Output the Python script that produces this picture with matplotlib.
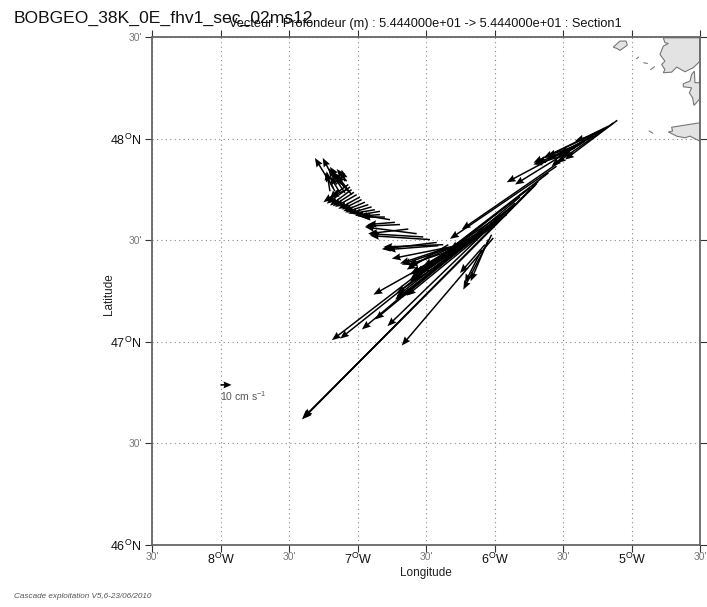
import matplotlib
matplotlib.use("Agg")
import matplotlib.pyplot as plt
from matplotlib.patches import Polygon

plt.rcParams['font.family'] = ['Liberation Sans', 'DejaVu Sans']
plt.rcParams['mathtext.fontset'] = 'custom'
plt.rcParams['mathtext.rm'] = 'Liberation Sans'
plt.rcParams['mathtext.it'] = 'Liberation Sans:italic'
plt.rcParams['mathtext.default'] = 'regular'

W, H = 707, 607
AX_L, AX_R, AX_T, AX_B = 152, 700, 37, 545

lon = [-5.104,-5.133,-5.169,-5.206,-5.255,-5.303,-5.340,-5.376,-5.413,-5.449,
       -5.498,-5.547,-5.607,-5.680,-5.693,-5.705,-5.741,-5.778,-5.814,-5.851,
       -5.887,-5.924,-5.960,-5.997,-6.009,-6.021,-6.045,-6.070,-6.094,-6.106,
       -6.143,-6.191,-6.240,-6.289,-6.337,-6.374,-6.422,-6.471,-6.520,-6.568,
       -6.629,-6.690,-6.763,-6.836,-6.873,-6.921,-6.970,-7.006,-7.043,-7.067,
       -7.079,-7.092,-7.116,-7.152,-7.177,-7.201,-7.140,-7.092,
       -6.727,-6.800,-6.836,-6.897,-6.946,-6.982,-7.026,-7.055,-7.079,-7.043,
       -7.067,-7.092,-7.128,-7.165,
       -6.130,-6.167,-6.203,-6.228,-6.264,-6.252,-6.057,-6.082,-5.911,-5.863,
       -5.960,-6.009,-6.301,-6.350,-6.410,
       -5.230,-5.279,-5.364,-5.425]
lat = [48.090,48.077,48.061,48.044,48.025,48.003,47.987,47.971,47.954,47.938,
       47.897,47.864,47.831,47.790,47.778,47.769,47.757,47.741,47.713,47.683,
       47.659,47.634,47.601,47.568,47.511,47.527,47.503,47.478,47.453,47.568,
       47.527,47.494,47.478,47.470,47.478,47.478,47.489,47.503,47.516,47.532,
       47.555,47.577,47.601,47.626,47.650,47.675,47.700,47.724,47.749,47.774,
       47.790,47.790,47.774,47.774,47.757,47.741,47.749,47.757,
       47.588,47.614,47.642,47.664,47.687,47.713,47.736,47.762,47.749,47.724,
       47.741,47.733,47.733,47.741,
       47.511,47.511,47.494,47.470,47.462,47.453,47.552,47.544,47.626,47.667,
       47.609,47.577,47.453,47.462,47.473,
       48.036,48.012,47.979,47.930]
u = [-47.6,-51.5,-68.2,-54.5,-19.7,-75.8,-63.6,-30.3,-34.8,-16.7,
     -92.4,-97.0,-125.7,-215.1,-212.7,-210.6,-180.3,-168.2,-143.9,-116.0,
     -122.7,-98.5,-84.8,-110.6,-83.3,-25.8,-16.1,-22.7,-15.2,-60.6,
     -57.6,-60.6,-63.6,-42.4,-37.9,-54.5,-50.0,-54.5,-50.0,-47.0,
     -36.4,-31.8,-27.3,-19.7,-21.2,-21.2,-18.2,-19.7,-19.7,-22.7,
     -9.1,-3.0,-10.6,-12.7,-16.7,-3.0,-7.6,-9.1,
     -25.1,-21.2,-22.7,-21.2,-19.7,-19.7,-19.4,-21.2,-15.2,-13.6,
     -15.2,-15.2,-9.1,-9.1,
     -57.6,-54.5,-51.5,-43.9,-43.9,-57.6,-83.3,-72.7,-84.8,-57.6,
     -72.7,-63.6,-40.9,-42.4,-47.0,
     -36.4,-42.4,-22.7,-36.4]
v = [-35.8,-36.4,-33.3,-25.8,-7.0,-40.3,-39.4,-10.6,-13.6,-13.6,
     -63.6,-66.1,-97.0,-216.6,-213.9,-211.2,-138.5,-134.2,-120.6,-112.1,
     -101.5,-75.8,-69.1,-62.1,-97.9,-50.0,-37.9,-25.8,-30.3,-48.5,
     -34.8,-21.2,-12.7,-18.2,-22.7,-2.1,-6.1,3.6,3.0,6.1,
     -4.2,-1.5,4.5,-1.5,-3.6,-7.0,-9.1,-11.2,-14.5,-16.1,
     11.2,10.6,16.1,24.2,27.3,18.2,-9.1,12.1,
     -2.1,0.0,-3.9,-6.1,-8.2,-10.9,-12.7,-15.2,-6.7,18.2,
     18.2,22.7,15.2,16.7,
     -34.8,-36.4,-36.4,-24.2,-24.2,-39.4,-63.6,-59.1,-59.1,-39.4,
     -50.0,-37.9,-13.6,-14.2,-3.6,
     -21.2,-21.2,-13.6,-10.6]

key_lon, key_lat, key_u, key_v = [-8.0], [46.788], [10.0], [0.0]

coast_north = [(-4.768,48.496),(-4.756,48.472),(-4.731,48.468),(-4.768,48.455),(-4.792,48.414),
               (-4.756,48.381),(-4.780,48.365),(-4.756,48.340),(-4.768,48.324),(-4.707,48.327),
               (-4.670,48.352),(-4.610,48.329),(-4.549,48.349),(-4.5,48.381),(-4.5,48.496)]
coast_rade = [(-4.5,48.307),(-4.505,48.275),(-4.537,48.275),(-4.541,48.332),(-4.561,48.316),
              (-4.573,48.283),(-4.622,48.270),(-4.622,48.255),(-4.561,48.250),(-4.578,48.225),
              (-4.554,48.201),(-4.544,48.163),(-4.5,48.197)]
coast_south = [(-4.5,48.078),(-4.707,48.056),(-4.700,48.037),(-4.731,48.033),(-4.670,48.012),
               (-4.610,48.004),(-4.573,48.012),(-4.5,47.987)]
ushant = [(-5.133,48.450),(-5.084,48.480),(-5.040,48.480),(-5.030,48.460),(-5.084,48.434),(-5.108,48.444)]
islets = [[(-4.909,48.373),(-4.885,48.370)],[(-4.860,48.340),(-4.833,48.353)],
          [(-4.962,48.393),(-4.950,48.401)],[(-4.870,48.037),(-4.846,48.027)]]

deg_lon = [-8, -7, -6, -5]
deg_lon_labels = ["8$^{O}$W", "7$^{O}$W", "6$^{O}$W", "5$^{O}$W"]
half_lon = [-8.5, -7.5, -6.5, -5.5, -4.5]
deg_lat = [46, 47, 48]
deg_lat_labels = ["46$^{O}$N", "47$^{O}$N", "48$^{O}$N"]
half_lat = [46.5, 47.5, 48.5]
half_label = "30'"

fig = plt.figure(figsize=(W/100, H/100), dpi=100)
ax = fig.add_axes([AX_L/W, 1-AX_B/H, (AX_R-AX_L)/W, (AX_B-AX_T)/H])
ax.set_xlim(-8.5, -4.5)
ax.set_ylim(46, 48.5)

for c in (coast_north, coast_rade, coast_south, ushant):
    ax.add_patch(Polygon(c, closed=True, fc='#e3e3e3', ec='#777777', lw=0.8, zorder=1))
for s in islets:
    ax.plot(*zip(*s), color='#777777', lw=0.8, zorder=1)

ax.quiver(lon, lat, u, v, angles='uv', scale_units='inches', scale=91, units='dots',
          width=1.5, headwidth=4.8, headlength=6.0, headaxislength=5.4, minlength=0,
          color='black', zorder=3)
ax.quiver(key_lon, key_lat, key_u, key_v, angles='uv', scale_units='inches', scale=91, units='dots',
          width=1.6, headwidth=4.4, headlength=5, headaxislength=4.5, color='black', zorder=3)
ax.text(-8.0, 46.735, "10 cm s$^{-1}$", fontsize=7.5, color='#555555', va='center', ha='left')

ax.set_xticks(deg_lon, deg_lon_labels)
ax.set_xticks(half_lon, [half_label]*5, minor=True)
ax.set_yticks(deg_lat, deg_lat_labels)
ax.set_yticks(half_lat, [half_label]*3, minor=True)
ax.tick_params(which='major', top=True, right=True, direction='out', length=5, width=0.8,
               color='#333333', labelsize=9, labelcolor='#111111', pad=0)
ax.tick_params(axis='y', which='major', pad=3)
ax.tick_params(which='minor', top=True, right=True, direction='out', length=5, width=0.8,
               color='#333333', labelsize=7.5, labelcolor='#777777', pad=0)
ax.tick_params(axis='y', which='minor', pad=2)
ax.grid(True, which='both', color='#888888', ls=(0, (1, 3)), lw=0.8)
ax.set_axisbelow(True)
for s in ax.spines.values():
    s.set_color('#666666')
    s.set_linewidth(1.3)

fig.text(426/W, 1-573/H, "Longitude", fontsize=8.5, color='#222222', ha='center', va='center')
fig.text(109/W, 1-294/H, "Latitude", fontsize=8.5, color='#222222', ha='center', va='center', rotation=90)
fig.text(14/W, 1-18/H, "BOBGEO_38K_0E_fhv1_sec_02ms12", fontsize=12.6, color='#111111', ha='left', va='center')
fig.text(229/W, 1-24/H, "Vecteur : Profondeur (m) : 5.444000e+01 -> 5.444000e+01 : Section1",
         fontsize=9.2, color='#111111', ha='left', va='center')
fig.text(14/W, 1-597/H, "Cascade exploitation V5,6-23/06/2010", fontsize=5.9, style='italic',
         color='#555555', ha='left', va='center')

fig.savefig("out.png", dpi=100)
